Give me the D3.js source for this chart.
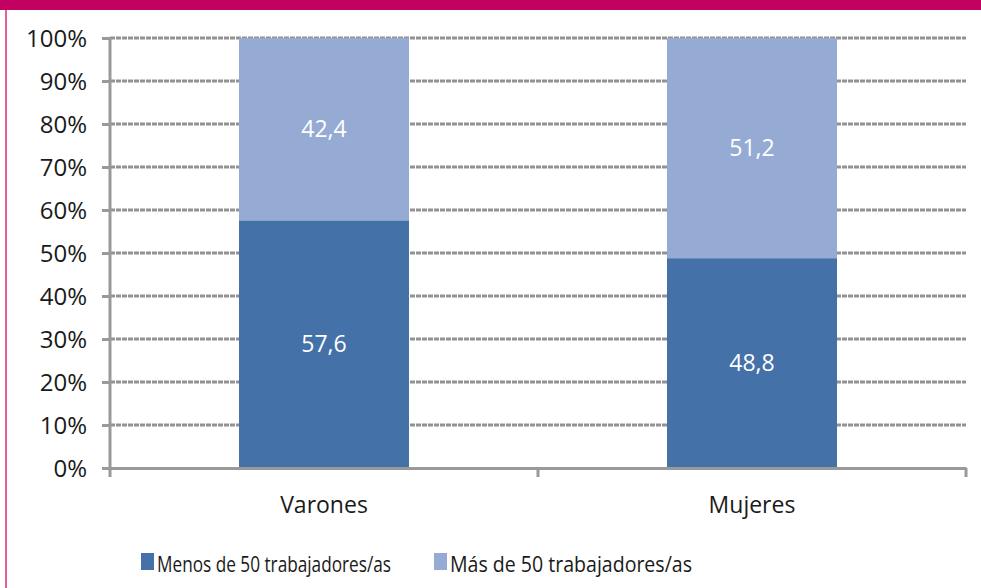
<!DOCTYPE html>
<html>
<head>
<meta charset="utf-8">
<script src="https://cdn.jsdelivr.net/npm/d3@7"></script>
<style>
  body { margin: 0; background: #fff; }
  svg { display: block; font-family: "Open Sans", "Noto Sans", sans-serif; }
</style>
</head>
<body>
<div class="chart"></div>
<script>
const categories = ["Varones", "Mujeres"];
const seriesNames = ["Menos de 50 trabajadores/as", "Más de 50 trabajadores/as"];
const menos = [57.6, 48.8];
const mas = [42.4, 51.2];
const yTicks = [0, 10, 20, 30, 40, 50, 60, 70, 80, 90, 100];
const colors = ["#4571a9", "#95abd4"];

const width = 981, height = 588;
const margin = {left: 110, right: 15, top: 38, bottom: 120};

const svg = d3.select(".chart").append("svg")
    .attr("width", width)
    .attr("height", height);

// frame
svg.append("rect").attr("x", 0).attr("y", 0).attr("width", width).attr("height", 10).attr("fill", "#c2005f");
svg.append("rect").attr("x", 5).attr("y", 10).attr("width", 2).attr("height", height - 10).attr("fill", "#e0609e");

const x = d3.scaleBand()
    .domain(categories)
    .range([margin.left, width - margin.right])
    .paddingInner(0).paddingOuter(0);

const y = d3.scaleLinear()
    .domain([0, 100])
    .range([height - margin.bottom, margin.top]);

// gridlines
svg.append("g")
    .selectAll("line")
    .data(yTicks.filter(d => d > 0))
    .enter().append("line")
    .attr("x1", margin.left)
    .attr("x2", width - margin.right)
    .attr("y1", d => y(d))
    .attr("y2", d => y(d))
    .attr("stroke", "#929292")
    .attr("stroke-width", 3)
    .attr("stroke-dasharray", "5,1");

// stacked bars
const data = categories.map((c, i) => ({cat: c, menos: menos[i], mas: mas[i]}));
const stack = d3.stack().keys(["menos", "mas"]);
const layers = stack(data);
const barW = 170;

layers.forEach((layer, li) => {
    svg.append("g")
        .selectAll("rect")
        .data(layer)
        .enter().append("rect")
        .attr("x", d => x(d.data.cat) + x.bandwidth() / 2 - barW / 2)
        .attr("width", barW)
        .attr("y", d => y(d[1]))
        .attr("height", d => y(d[0]) - y(d[1]))
        .attr("fill", colors[li]);

    svg.append("g")
        .selectAll("text")
        .data(layer)
        .enter().append("text")
        .attr("x", d => x(d.data.cat) + x.bandwidth() / 2)
        .attr("y", d => (y(d[0]) + y(d[1])) / 2)
        .attr("dy", "0.35em")
        .attr("text-anchor", "middle")
        .attr("fill", "#fff")
        .attr("font-size", 23)
        .text(d => (d[1] - d[0]).toFixed(1).replace(".", ","));
});

// y axis
const yAxis = svg.append("g")
    .attr("transform", `translate(${margin.left},0)`)
    .call(d3.axisLeft(y).tickValues(yTicks).tickFormat(d => d + "%").tickSize(8).tickPadding(15));
yAxis.select(".domain").attr("stroke", "#999").attr("stroke-width", 3).attr("d", `M0,${y(0)}V${y(100)}`);
yAxis.selectAll(".tick line").attr("stroke", "#999").attr("stroke-width", 3);
yAxis.selectAll(".tick text").attr("font-size", 24).attr("fill", "#1a1a1a")
    .attr("font-family", "Open Sans, sans-serif").attr("dy", "0.36em");

// x axis
const xAxis = svg.append("g")
    .attr("transform", `translate(0,${y(0)})`)
    .call(d3.axisBottom(x).tickSize(0).tickPadding(28));
xAxis.select(".domain").attr("stroke", "#999").attr("stroke-width", 3);
xAxis.selectAll(".tick text").attr("font-size", 23).attr("fill", "#1a1a1a")
    .attr("font-family", "Open Sans, sans-serif").attr("y", 45).attr("dy", 0);
const bounds = [margin.left, x("Mujeres"), width - margin.right];
xAxis.selectAll(".bound")
    .data(bounds)
    .enter().append("line")
    .attr("x1", d => d).attr("x2", d => d)
    .attr("y1", 0).attr("y2", 9)
    .attr("stroke", "#999").attr("stroke-width", 3);

// legend
const legendX = [141, 434];
const legend = svg.append("g");
seriesNames.forEach((name, i) => {
    legend.append("rect")
        .attr("x", legendX[i]).attr("y", 553)
        .attr("width", 13).attr("height", 17)
        .attr("fill", colors[i]);
    legend.append("text")
        .attr("x", legendX[i] + 16).attr("y", 572)
        .attr("font-size", 22)
        .attr("fill", "#1a1a1a")
        .attr("textLength", i === 0 ? 234 : 242)
        .attr("lengthAdjust", "spacingAndGlyphs")
        .text(name);
});
</script>
</body>
</html>
